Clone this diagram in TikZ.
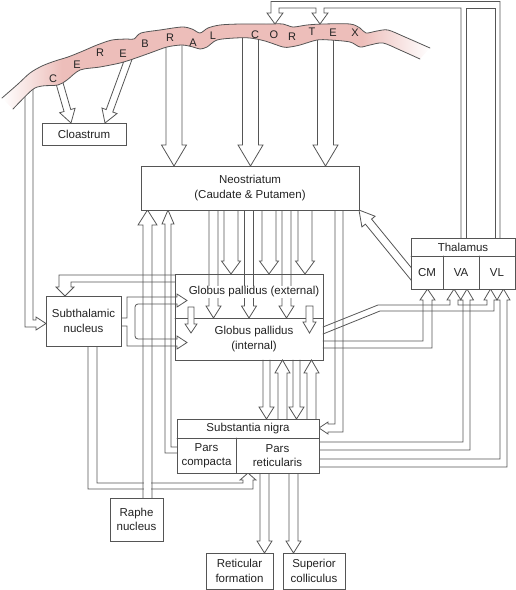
\documentclass[tikz,border=0pt]{standalone}
\usepackage{fontspec}
\setmainfont{Liberation Sans}
\usetikzlibrary{calc,backgrounds}
\definecolor{lc}{RGB}{85,85,85}
\definecolor{tc}{RGB}{35,35,35}
\definecolor{pk}{RGB}{237,190,186}
\pgfdeclarehorizontalshading{cortexsh}{100bp}{color(0bp)=(white); color(25bp)=(white); color(32bp)=(pk); color(67bp)=(pk); color(75bp)=(white); color(100bp)=(white)}
\newcommand\lblfont{\fontsize{11.5}{14.5}\selectfont}
\tikzset{
  ch/.style={draw=lc, line width=0.8pt, line join=miter, line cap=round},
  box/.style={draw=lc, line width=0.8pt, fill=white, inner sep=0pt, align=center, text=tc, font=\lblfont},
  lbl/.style={inner sep=0.5pt, align=center, text=tc, font=\lblfont},
  ltr/.style={inner sep=0pt, text=tc, font=\fontsize{11}{12}\selectfont}
}
\newcommand\hol[5]{%
  \coordinate (hS) at #1; \coordinate (hT) at #2;
  \coordinate (hB) at ($(hT)!#5!(hS)$);
  \draw[ch] ($(hS)!#3!90:(hT)$) -- ($(hB)!#3!90:(hT)$) -- ($(hB)!#4!90:(hT)$) -- (hT) -- ($(hB)!#4!-90:(hT)$) -- ($(hB)!#3!-90:(hT)$) -- ($(hS)!#3!-90:(hT)$);}
\newcommand\holc[5]{%
  \coordinate (hS) at #1; \coordinate (hT) at #2;
  \coordinate (hB) at ($(hT)!#5!(hS)$);
  \filldraw[ch, fill=white] ($(hS)!#3!90:(hT)$) -- ($(hB)!#3!90:(hT)$) -- ($(hB)!#4!90:(hT)$) -- (hT) -- ($(hB)!#4!-90:(hT)$) -- ($(hB)!#3!-90:(hT)$) -- ($(hS)!#3!-90:(hT)$) -- cycle;}
\begin{document}
\begin{tikzpicture}[x=1pt,y=-1pt]
\useasboundingbox (0,0) rectangle (516,590);

% ---------- boxes ----------
\node[box, minimum width=84pt, minimum height=22pt] (clo) at (84,134) {Cloastrum};
\node[box, minimum width=218pt, minimum height=44pt] (neo) at (250,188) {Neostriatum\\(Caudate \& Putamen)};
\node[box, minimum width=104pt, minimum height=51pt] (thal) at (463,263.5) {};
\node[box, minimum width=75pt, minimum height=50pt] (stn) at (83.5,321) {Subthalamic\\nucleus};
\node[box, minimum width=53pt, minimum height=43pt] (raphe) at (136.5,519.5) {Raphe\\nucleus};
\node[box, minimum width=67pt, minimum height=36pt] (rf) at (239.5,571) {Reticular\\formation};
\node[box, minimum width=62pt, minimum height=36pt] (sc) at (314,571) {Superior\\colliculus};
\node[box, fill=none, minimum width=148pt, minimum height=86pt] (gp) at (249,317) {};
\node[box, minimum width=142pt, minimum height=54pt] (sn) at (248,446) {};

% thalamus subdivisions
\draw[ch] (411,256) -- (515,256);
\draw[ch] (443,256) -- (443,289);
\draw[ch] (479,256) -- (479,289);
\node[lbl] (thalt) at (463,247) {Thalamus};
\node[lbl] (cm) at (427,272.5) {CM};
\node[lbl] (va) at (461,272.5) {VA};
\node[lbl] (vl) at (497,272.5) {VL};

% substantia nigra subdivisions
\draw[ch] (177,438) -- (319,438);
\draw[ch] (236,438) -- (236,473);
\node[lbl] (snt) at (248,428.5) {Substantia nigra};
\node[lbl] (pc) at (206.5,455.5) {Pars\\compacta};
\node[lbl] (pr) at (277.5,455.5) {Pars\\reticularis};

% globus pallidus
\draw[ch] (175,318) -- (323,318);
\node[lbl, fill=white] (gpe) at (254,292) {Globus pallidus (external)};
\node[lbl] (gpi) at (254,339) {Globus pallidus\\(internal)};
\holc{(191,307)}{(191,333)}{3pt}{6pt}{9pt}
\holc{(309.5,306)}{(309.5,333)}{3.5pt}{6.5pt}{11pt}

% ---------- channels ----------
\begin{pgfonlayer}{background}
% cortex -> claustrum
\hol{(58,78)}{(71,123)}{3.5pt}{8pt}{13pt}
\hol{(131,52)}{(105,123)}{3.5pt}{8pt}{13pt}
% cortex -> neostriatum
\hol{(174,40)}{(174,166)}{8pt}{12.5pt}{21pt}
\hol{(250.5,30)}{(250.5,166)}{8pt}{12.5pt}{21pt}
\hol{(325.5,30)}{(325.5,166)}{8pt}{12.5pt}{21pt}
% cortex -> subthalamic nucleus
\draw[ch] (25,95)--(25,327)--(36,327)--(36,330)--(46,323.5)--(36,317)--(36,320)--(33,320)--(33,88);
% thalamus -> cortex
\draw[ch] (500,245)--(500,1.5)--(271,1.5)--(271,13)--(267,13)--(275,24)--(283,13)--(279,13)--(279,8)--(316,8)--(316,13)--(312,13)--(320,24)--(328,13)--(324,13)--(324,8)--(461,8)--(461,245);
\draw[ch] (466,245)--(466,8)--(495,8)--(495,245);
% neostriatum -> GPe
\foreach \x in {231,269,305} {\hol{(\x,205)}{(\x,274)}{7pt}{9.5pt}{13pt}}
% neostriatum -> GPi
\foreach \x in {213.5,249,286.5} {\hol{(\x,205)}{(\x,318)}{4.5pt}{7.5pt}{12pt}}
% neostriatum -> SN
\draw[ch] (335,205)--(335,424)--(328,424)--(328,422)--(319,428)--(328,434)--(328,432)--(343,432)--(343,205);
% pars compacta -> neostriatum
\draw[ch] (180,453)--(165,453)--(165,224)--(162,224)--(168,210)--(174,224)--(171,224)--(171,447)--(180,447);
% GPe -> subthalamic
\draw[ch] (175,275)--(59,275)--(59,287)--(56,287)--(65,296)--(74,287)--(71,287)--(71,282)--(175,282);
% subthalamic -> GPe, GPi
\draw[ch] (118,318)--(127,318)--(127,297)--(177,297)--(177,294)--(187,300.5)--(177,307)--(177,304);
\draw[ch, rounded corners=3pt] (177,304)--(135,304)--(135,339)--(177,339);
\draw[ch] (177,339)--(177,336)--(187,342.5)--(177,349)--(177,346)--(127,346)--(127,326)--(118,326);
% GPi -> CM
\draw[ch] (323,341)--(423,341)--(423,300)--(420,300)--(427.5,289)--(435,300)--(432,300)--(432,348)--(323,348);
% GPi -> VA, VL
\draw[ch] (323,327)--(378,305)--(450,305)--(450,300)--(447,300)--(454,289)--(461,300)--(458,300)--(458,305)--(487,305)--(487,300)--(484,300)--(490.5,289)--(497,300)--(494,300)--(494,311)--(380,311)--(323,334);
% SN -> VA
\draw[ch] (316,442)--(463,442)--(463,300)--(460.5,300)--(467,289)--(473.5,300)--(470,300)--(470,450)--(316,450);
% SN -> VL
\draw[ch] (316,459)--(500,459)--(500,300)--(497,300)--(503.5,289)--(510,300)--(507,300)--(507,467)--(316,467);
% GPi <-> SN
\hol{(266.5,360)}{(266.5,419)}{3.5pt}{7.5pt}{12pt}
\hol{(282.5,422)}{(282.5,360)}{4.5pt}{7.5pt}{13pt}
\hol{(296.5,360)}{(296.5,419)}{3.5pt}{7.5pt}{12pt}
\hol{(311.5,422)}{(311.5,360)}{4.5pt}{7.5pt}{13pt}
% SN -> reticular formation, superior colliculus
\hol{(264.5,470)}{(264.5,553)}{4.5pt}{7.5pt}{12pt}
\hol{(293.5,470)}{(293.5,553)}{4.5pt}{7.5pt}{12pt}
% CM -> neostriatum
\hol{(417,281)}{(359,210)}{4pt}{8.5pt}{15pt}
% subthalamic -> SN
\draw[ch] (88,344)--(88,489)--(253,489)--(253,480)--(256,480)--(248,473)--(240,480)--(243,480)--(243,483)--(97,483)--(97,344);
% raphe -> neostriatum (crosses over)
\fill[white] (143.6,478) rectangle (151.4,494);
\hol{(147.5,500)}{(147.5,210)}{4.5pt}{9.5pt}{15pt}
\end{pgfonlayer}

% ---------- cerebral cortex ----------
\shade[shading=cortexsh] plot[smooth] coordinates {(2,98) (18,84) (30,73) (42,66) (55,61) (68,57) (83,51) (97,45) (112,40) (127,39) (134,39) (141,33) (160,30) (182,27) (192,29) (200,33) (208,28) (220,25) (240,24) (267,24) (283,24) (293,27) (307,25) (323,24) (350,24) (360,28) (366,33) (377,31) (388,30) (405,37) (430,48)}
  -- plot[smooth] coordinates {(420,59) (400,50) (383,43) (370,45) (360,47) (350,42) (330,40) (317,40) (300,45) (290,47) (283,47) (265,41) (250,38) (235,38) (217,40) (207,47) (200,49) (193,47) (182,45) (167,47) (150,53) (133,59) (120,63) (100,67) (80,70) (67,80) (58,85) (42,86) (32,90) (13,109)} -- cycle;
\draw[ch] plot[smooth] coordinates {(2,98) (18,84) (30,73) (42,66) (55,61) (68,57) (83,51) (97,45) (112,40) (127,39) (134,39) (141,33) (160,30) (182,27) (192,29) (200,33) (208,28) (220,25) (240,24) (267,24) (283,24) (293,27) (307,25) (323,24) (350,24) (360,28) (366,33) (377,31) (388,30) (405,37) (430,48)};
\draw[ch] plot[smooth] coordinates {(420,59) (400,50) (383,43) (370,45) (360,47) (350,42) (330,40) (317,40) (300,45) (290,47) (283,47) (265,41) (250,38) (235,38) (217,40) (207,47) (200,49) (193,47) (182,45) (167,47) (150,53) (133,59) (120,63) (100,67) (80,70) (67,80) (58,85) (42,86) (32,90) (13,109)};
\node[ltr] (l1) at (53,79) {C};
\node[ltr] (l2) at (77,65) {E};
\node[ltr] (l3) at (100,53) {R};
\node[ltr] (l4) at (123,54) {E};
\node[ltr] (l5) at (145,44) {B};
\node[ltr] (l6) at (170,38) {R};
\node[ltr] (l7) at (193,43) {A};
\node[ltr] (l8) at (213,36) {L};
\node[ltr] (l9) at (255,35) {C};
\node[ltr] (l10) at (274,35) {O};
\node[ltr] (l11) at (292,37) {R};
\node[ltr] (l12) at (312,32) {T};
\node[ltr] (l13) at (333,33) {E};
\node[ltr] (l14) at (355,33) {X};
\end{tikzpicture}
\end{document}
